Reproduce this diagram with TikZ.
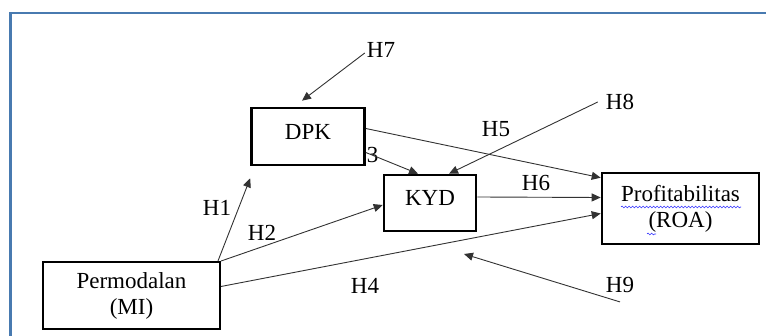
\documentclass[tikz,border=0pt]{standalone}
\usepackage{fontspec}
\setmainfont{Liberation Serif}
\usetikzlibrary{arrows.meta,positioning,decorations.pathmorphing}
\definecolor{framecol}{RGB}{72,122,176}
\definecolor{linecol}{RGB}{50,50,50}
\tikzset{%
  box/.style={draw,align=center,line width=2.6pt,inner sep=2pt},
  arrow/.style={-{Triangle[length=9pt,width=8pt]}, line width=0.9pt, draw=linecol}%
}

\begin{document}
\begin{tikzpicture}[
    x=1pt, y=-1pt,
    font=\fontsize{23}{26}\selectfont,
    thinbox/.style={
        box,
        line width=1.9pt
    },
    hyp/.style={
        inner sep=3pt
    },
    spell/.style={
        draw=blue!80,
        line width=0.6pt,
        decorate,
        decoration={snake, amplitude=0.9pt, segment length=3.5pt}
    }
]
\useasboundingbox (0,0) rectangle (766,336);

% Outer frame
\draw[framecol, line width=2.3pt] (10.5,345) |- (775,13);

% Variables
\node[box, minimum width=113pt, minimum height=57pt, text depth=10pt] (dpk) at (308,136.5) {DPK};
\node[box, minimum width=92pt, minimum height=56pt, text depth=10pt] (kyd) at (430,203) {KYD};
\node[box, minimum width=157pt, minimum height=71pt] (prof) at (680.5,208.5)
{Profitabilitas\\(ROA)};
\node[thinbox, minimum width=177pt, minimum height=67pt] (mi) at (131.5,295.5)
{Permodalan\\(MI)};

% Hypothesis labels
\node[hyp] (h1) at (217,208) {H1};
\node[hyp] (h2) at (262,233) {H2};
\node[hyp] (h3) at (372.5,155.5) {3};
\node[hyp] (h4) at (365,286) {H4};
\node[hyp] (h5) at (496,129) {H5};
\node[hyp] (h6) at (536,183) {H6};
\node[hyp] (h7) at (381,50) {H7};
\node[hyp] (h8) at (620,102) {H8};
\node[hyp] (h9) at (620,285) {H9};

\coordinate (h9end) at (464,254);

% Arrows
\draw[arrow] ([xshift=-3pt]mi.north east) -- ([yshift=-12pt]dpk.south west);
\draw[arrow] (mi.north east) -- ([yshift=-2pt]kyd.west);
\draw[arrow] ([yshift=9pt]mi.east) -- ([yshift=-5pt]prof.west);
\draw[arrow] ([yshift=-16pt]dpk.east) -- ([xshift=-12pt]kyd.north);
\draw[arrow] ([yshift=8pt]dpk.east) -- ([yshift=-6pt]prof.north west);
\draw[arrow] ([yshift=6pt]kyd.east) -- ([yshift=11pt]prof.west);
\draw[arrow] ([xshift=1pt,yshift=-3pt]h7.west) -- ([xshift=-6pt,yshift=6pt]dpk.north);
\draw[arrow] ([xshift=-5pt]h8.west) -- ([xshift=19pt]kyd.north);
\draw[arrow] ([yshift=-6pt]h9.south) -- (h9end);

% Spell-check marks
\draw[spell] (621,207) -- (741,207);
\draw[spell] (647,234) -- (656,234);

\end{tikzpicture}
\end{document}
